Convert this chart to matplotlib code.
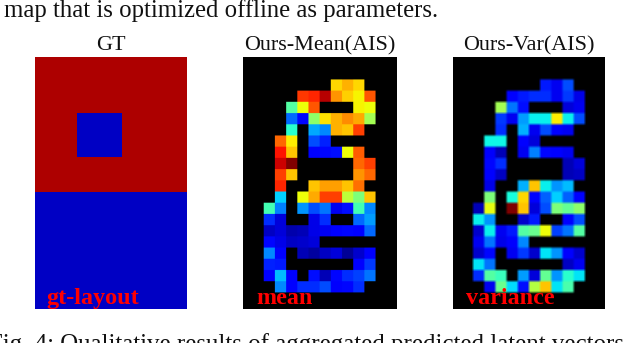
import numpy as np
import matplotlib
matplotlib.use('Agg')
import matplotlib.pyplot as plt

plt.rcParams['font.family'] = ['Liberation Serif', 'DejaVu Serif']

_ = np.nan

# jet colormap values, black cells are nan
mean_cells = [
    [_]*14,
    [_]*14,
    [_, _, _, _, _, _, _, _, .68, .72, .68, _, _, _],
    [_, _, _, _, _, .85, .87, .95, .75, .69, .65, .82, _, _],
    [_, _, _, _, .45, .64, .82, _, _, _, .65, .64, _, _],
    [_, _, _, _, .23, .13, .52, .67, .72, .76, .73, .55, _, _],
    [_, _, _, _, .40, _, .29, .26, .72, .70, .84, _, _, _],
    [_, _, _, .80, .66, _, .20, .16, _, _, _, _, _, _],
    [_, _, _, .89, .70, _, .11, .13, .14, .64, .81, _, _, _],
    [_, _, _, .93, 1.0, _, _, _, _, _, .80, .84, _, _],
    [_, _, _, .84, .70, _, _, _, _, _, .75, .80, _, _],
    [_, _, _, .87, _, _, .70, .74, .74, .70, .79, _, _, _],
    [_, _, _, .33, _, .64, .73, .84, .84, .58, .50, .70, _, _],
    [_, _, .43, .25, _, .27, .20, .24, .10, .14, .43, .26, _, _],
    [_, _, .17, .08, _, _, .09, .17, _, _, .23, .28, _, _],
    [_, _, .06, .08, .04, .05, .09, .10, .12, .13, .12, .23, _, _],
    [_, _, .13, .09, .06, .07, .08, _, _, _, _, _, _, _],
    [_, _, .26, .12, _, .05, .03, .06, .08, .02, .07, .11, _, _],
    [_, _, .16, .15, _, _, _, _, _, _, .11, .18, _, _],
    [_, _, .12, .31, .12, _, .14, .05, .13, .17, .19, .24, _, _],
    [_, _, _, .26, .12, .17, .17, .20, .11, .13, .17, _, _, _],
    [_]*14,
    [_]*14,
]

var_cells = [
    [_]*14,
    [_]*14,
    [_, _, _, _, _, _, _, _, .15, .10, .20, _, _, _],
    [_, _, _, _, _, .12, .15, .17, .17, .10, .18, .09, _, _],
    [_, _, _, _, .55, .24, .14, _, _, _, .08, .10, _, _],
    [_, _, _, _, .18, .10, .28, .36, .36, .66, .36, .20, _, _],
    [_, _, _, _, .17, _, .30, .10, .20, .12, .10, _, _, _],
    [_, _, _, .37, .37, _, .12, .08, _, _, _, _, _, _],
    [_, _, _, .11, .05, _, .10, .25, .13, .12, .10, _, _, _],
    [_, _, _, .13, .17, _, _, _, _, _, .05, .08, _, _],
    [_, _, _, .12, .06, _, _, _, _, _, .05, .06, _, _],
    [_, _, _, .09, _, _, .30, .70, .36, .27, .31, _, _, _],
    [_, _, _, .50, _, .38, .68, .12, .22, .33, .22, .11, _, _],
    [_, _, .05, .63, _, 1.0, .70, .08, .20, .50, .47, .52, _, _],
    [_, _, .36, .27, _, _, .07, .15, _, _, .12, .20, _, _],
    [_, _, .07, .36, .10, .15, .45, .48, .64, .19, .24, .45, _, _],
    [_, _, .10, .24, .09, .11, .26, _, _, _, _, _, _, _],
    [_, _, .07, .13, _, .10, .18, .07, .35, .27, .12, .07, _, _],
    [_, _, .35, .24, _, _, _, _, _, _, .06, .10, _, _],
    [_, _, .17, .45, .42, _, .28, .08, .47, .27, .40, .35, _, _],
    [_, _, _, .10, .48, .34, .14, .57, .70, .35, .44, _, _, _],
    [_]*14,
    [_]*14,
]

# gt layout: red block with a blue square on top of a blue block
gt_x_edges = [0, 3.9, 8.03, 14]
gt_y_edges = [0, 5.1, 9.15, 12.3, 23]
gt_cells = [
    [.96, .96, .96],
    [.96, .06, .96],
    [.96, .96, .96],
    [.06, .06, .06],
]

titles = ['GT', 'Ours-Mean(AIS)', 'Ours-Var(AIS)']
labels = ['gt-layout', 'mean', 'variance']
top_line = 'map that is optimized offline as parameters.'
bottom_line = 'Fig. 4: Qualitative results of aggregated predicted latent vectors. '

W, H = 640, 343
CELL = 11.18
fig = plt.figure(figsize=(W / 100, H / 100), dpi=100, facecolor='white')


def panel(left, right, top=57, bottom=309):
    ax = fig.add_axes([left / W, 1 - bottom / H, (right - left) / W, (bottom - top) / H])
    ax.set_facecolor('black')
    ax.set_xticks([])
    ax.set_yticks([])
    for s in ax.spines.values():
        s.set_visible(False)
    return ax


def show_cells(ax, cells, blur, x0, width):
    # upsample before bilinear so the blur only touches the cell borders
    big = np.kron(np.array(cells), np.ones((blur, blur)))
    ax.imshow(big, cmap=cmap, vmin=0, vmax=1, aspect='auto', interpolation='bilinear',
              interpolation_stage='rgba', extent=(-.5, 13.5, 22.5, -.5))
    ax.set_xlim(x0, x0 + width / CELL)
    ax.set_ylim(-.56 + 252 / CELL, -.56)


cmap = plt.get_cmap('jet').copy()
cmap.set_bad('black')

ax1 = panel(34.5, 187)
ax1.pcolormesh(gt_x_edges, gt_y_edges, np.array(gt_cells), cmap=cmap, vmin=0, vmax=1)
ax1.set_xlim(0, 14)
ax1.set_ylim(23, 0)

ax2 = panel(243, 397)
show_cells(ax2, mean_cells, 10, -.357, 154)

# var panel is more blurred in the original
ax3 = panel(453, 605)
show_cells(ax3, var_cells, 4, -.295, 152)

label_x = [46.5, 256.5, 466.5]
for ax, t, l, lx in zip([ax1, ax2, ax3], titles, labels, label_x):
    ax.set_title(t, fontsize=15.9, color='#111111', pad=5)
    fig.text(lx / W, 1 - 304 / H, l, color='red', fontsize=17.4, fontweight='bold', va='baseline')

fig.text(4 / W, 1 - 17 / H, top_line, fontsize=17.8, color='#111111', va='baseline')
fig.text(-11 / W, 1 - 351.5 / H, bottom_line, fontsize=17.9, color='#111111', va='baseline')

fig.savefig('out.png', dpi=100)
